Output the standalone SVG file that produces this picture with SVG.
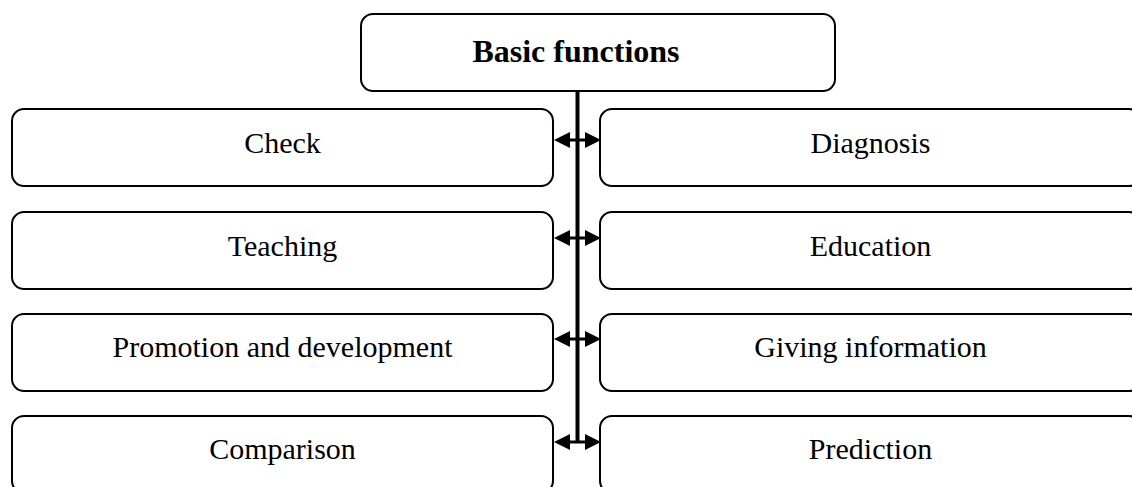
<svg xmlns="http://www.w3.org/2000/svg" width="1132" height="487" viewBox="0 0 1132 487">
<style>
.box{fill:#fff;stroke:#000;stroke-width:2}
.t{font-family:"Liberation Serif","Times New Roman",serif;font-size:30px;text-anchor:middle;fill:#000}
.b{font-weight:bold;font-size:32px}
.shaft{stroke:#000;stroke-width:3}
.head{fill:#000}
</style>
<rect width="1132" height="487" fill="#fff"/>
<g id="connectors">
<line x1="577.5" y1="91" x2="577.5" y2="443" stroke="#000" stroke-width="4"/>
<g id="arrow1"><line class="shaft" x1="566" y1="140" x2="589" y2="140"/><polygon class="head" points="554,140 570,132 570,148"/><polygon class="head" points="601,140 585,132 585,148"/></g>
<g id="arrow2"><line class="shaft" x1="566" y1="238" x2="589" y2="238"/><polygon class="head" points="554,238 570,230 570,246"/><polygon class="head" points="601,238 585,230 585,246"/></g>
<g id="arrow3"><line class="shaft" x1="566" y1="339" x2="589" y2="339"/><polygon class="head" points="554,339 570,331 570,347"/><polygon class="head" points="601,339 585,331 585,347"/></g>
<g id="arrow4"><line class="shaft" x1="566" y1="442" x2="589" y2="442"/><polygon class="head" points="554,442 570,434 570,450"/><polygon class="head" points="601,442 585,434 585,450"/></g>
</g>
<g id="basic"><rect class="box" x="361" y="14" width="474" height="77" rx="12"/><text class="t b" x="576" y="62">Basic functions</text></g>
<g id="check"><rect class="box" x="12" y="109" width="541" height="77" rx="12"/><text class="t" x="282.5" y="153">Check</text></g>
<g id="diagnosis"><rect class="box" x="600" y="109" width="541" height="77" rx="12"/><text class="t" x="870.5" y="153">Diagnosis</text></g>
<g id="teaching"><rect class="box" x="12" y="212" width="541" height="77" rx="12"/><text class="t" x="282.5" y="256">Teaching</text></g>
<g id="education"><rect class="box" x="600" y="212" width="541" height="77" rx="12"/><text class="t" x="870.5" y="256">Education</text></g>
<g id="promotion"><rect class="box" x="12" y="314" width="541" height="77" rx="12"/><text class="t" x="282.5" y="357">Promotion and development</text></g>
<g id="giving"><rect class="box" x="600" y="314" width="541" height="77" rx="12"/><text class="t" x="870.5" y="357">Giving information</text></g>
<g id="comparison"><rect class="box" x="12" y="416" width="541" height="77" rx="12"/><text class="t" x="282.5" y="459">Comparison</text></g>
<g id="prediction"><rect class="box" x="600" y="416" width="541" height="77" rx="12"/><text class="t" x="870.5" y="459">Prediction</text></g>
</svg>
